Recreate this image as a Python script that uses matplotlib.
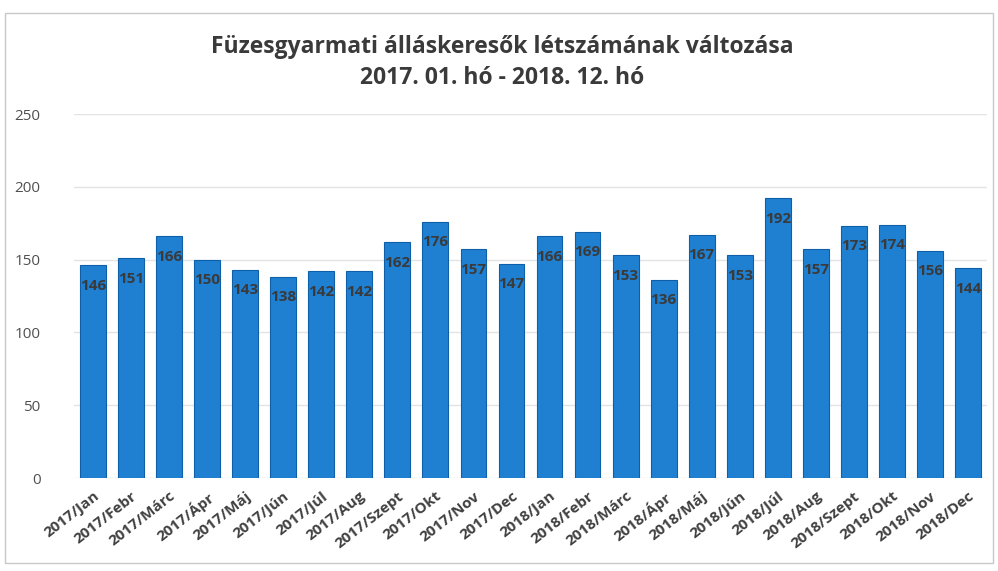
import matplotlib.pyplot as plt
import matplotlib.patches as mpatches

# monthly job seeker counts, Füzesgyarmat
months = ['2017/Jan', '2017/Febr', '2017/Márc', '2017/Ápr', '2017/Máj', '2017/Jún',
          '2017/Júl', '2017/Aug', '2017/Szept', '2017/Okt', '2017/Nov', '2017/Dec',
          '2018/Jan', '2018/Febr', '2018/Márc', '2018/Ápr', '2018/Máj', '2018/Jún',
          '2018/Júl', '2018/Aug', '2018/Szept', '2018/Okt', '2018/Nov', '2018/Dec']
values = [146, 151, 166, 150, 143, 138, 142, 142, 162, 176, 157, 147,
          166, 169, 153, 136, 167, 153, 192, 157, 173, 174, 156, 144]
yticks = [0, 50, 100, 150, 200, 250]

plt.rcParams['font.family'] = ['Open Sans', 'DejaVu Sans']

fig = plt.figure(figsize=(9.98, 5.71), dpi=100)
ax = fig.add_axes([74 / 998, 1 - 478 / 571, 913 / 998, 364 / 571])

# light frame around the whole chart
fig.patches.append(mpatches.Rectangle((5 / 998, 8 / 571), 988 / 998, 550 / 571,
                                      transform=fig.transFigure, fill=False,
                                      edgecolor='#c8c8c8', linewidth=1))

x = list(range(len(months)))
bars = ax.bar(x, values, width=0.68, color='#1f80d2', edgecolor='#0f5fa8',
              linewidth=0.8, zorder=3)

for xi, v in zip(x, values):
    ax.text(xi, v - 14, str(v), ha='center', va='center', fontsize=11,
            color='#3a3a3a', fontweight='bold', zorder=4)

ax.set_xlim(-0.5, len(months) - 0.5)
ax.set_ylim(0, 250)
ax.set_yticks(yticks)
ax.set_yticklabels([str(t) for t in yticks], fontsize=11, color='#505050')
ax.set_xticks(x)
ax.set_xticklabels(months, rotation=38, ha='right', rotation_mode='anchor',
                   fontsize=11, fontweight='bold', color='#404040')
ax.tick_params(axis='x', length=0, pad=8)
ax.tick_params(axis='y', length=0, pad=24)
ax.grid(axis='y', color='#e4e4e4', linewidth=1, zorder=0)
for s in ax.spines.values():
    s.set_visible(False)

fig.text(0.503, 1 - 47 / 571, 'Füzesgyarmati álláskeresők létszámának változása',
         ha='center', va='center', fontsize=16.5, fontweight='bold', color='#3a3a3a')
fig.text(0.503, 1 - 78 / 571, '2017. 01. hó - 2018. 12. hó',
         ha='center', va='center', fontsize=16.5, fontweight='bold', color='#3a3a3a')

fig.savefig('out.png', dpi=100)
